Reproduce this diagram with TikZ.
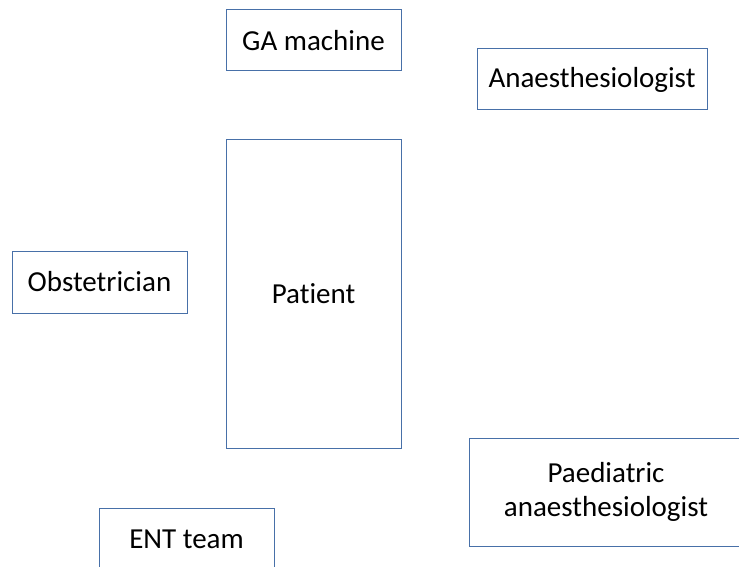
\documentclass[tikz,border=0pt]{standalone}
\usepackage{fontspec}
\setmainfont{Carlito}[Ligatures=CommonOff]
\definecolor{boxblue}{RGB}{72,112,168}
\tikzset{
  room/.style={draw=boxblue,line width=1pt,fill=white,font=\fontsize{29}{34}\selectfont,
    align=center,inner sep=0pt,text=black},
}
\begin{document}
\begin{tikzpicture}[x=1pt,y=-1pt]
    \useasboundingbox (0,0) rectangle (739,567);
    \clip (0,0) rectangle (739,567);
    \node[room,minimum width=175,minimum height=61] (ga) at (313.5,40.5) {GA machine};
    \node[room,minimum width=230,minimum height=61] (anaes) at (592,79.5) {Anaesthesiologist};
    \node[room,minimum width=175,minimum height=308] (patient) at (313.5,294) {Patient};
    \node[room,minimum width=175,minimum height=62] (obst) at (99.5,282) {Obstetrician};
    \node[room,minimum width=274,minimum height=108] (paed) at (606,492) {Paediatric\\anaesthesiologist};
    \node[room,minimum width=175,minimum height=62] (ent) at (186.5,539) {ENT team};
\end{tikzpicture}
\end{document}
